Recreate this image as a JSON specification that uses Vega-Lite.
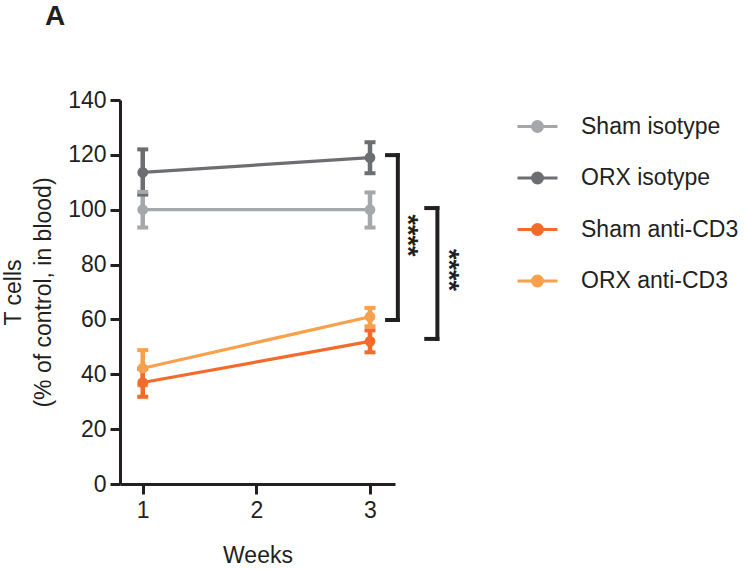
{
  "$schema": "https://vega.github.io/schema/vega-lite/v6.json",
  "width": 275,
  "height": 384,
  "autosize": {"type": "none"},
  "padding": {"left": 120, "top": 100, "right": 352, "bottom": 85},
  "background": "white",
  "title": {
    "text": "A",
    "anchor": "start",
    "frame": "group",
    "dx": -75,
    "offset": 36,
    "baseline": "alphabetic",
    "fontSize": 28,
    "fontWeight": "bold",
    "font": "Liberation Sans",
    "color": "#231f20"
  },
  "config": {
    "view": {"stroke": null},
    "font": "Liberation Sans",
    "axis": {
      "grid": false,
      "domainColor": "#231f20",
      "domainWidth": 3,
      "tickColor": "#231f20",
      "tickWidth": 3,
      "tickSize": 10,
      "labelFont": "Liberation Sans",
      "labelFontSize": 23,
      "labelColor": "#231f20",
      "titleFont": "Liberation Sans",
      "titleFontSize": 23,
      "titleFontWeight": "normal",
      "titleColor": "#231f20"
    }
  },
  "datasets": {
    "groups": [
      {"group": "ORX isotype", "week": 1, "mean": 113.6, "lo": 105.5, "hi": 122},
      {"group": "ORX isotype", "week": 3, "mean": 119, "lo": 113.3, "hi": 124.6},
      {"group": "Sham isotype", "week": 1, "mean": 100, "lo": 93.5, "hi": 106.5},
      {"group": "Sham isotype", "week": 3, "mean": 100, "lo": 93.5, "hi": 106.3},
      {"group": "ORX anti-CD3", "week": 1, "mean": 42.2, "lo": 36, "hi": 48.8},
      {"group": "ORX anti-CD3", "week": 3, "mean": 61, "lo": 57.5, "hi": 64.2},
      {"group": "Sham anti-CD3", "week": 1, "mean": 37, "lo": 31.8, "hi": 42},
      {"group": "Sham anti-CD3", "week": 3, "mean": 52, "lo": 48, "hi": 56}
    ],
    "brackets": [
      {"w1": 3.245, "w2": 3.245, "v1": 59.8, "v2": 119.9},
      {"w1": 3.15, "w2": 3.245, "v1": 119.9, "v2": 119.9},
      {"w1": 3.15, "w2": 3.245, "v1": 59.8, "v2": 59.8},
      {"w1": 3.593, "w2": 3.593, "v1": 52.9, "v2": 100.6},
      {"w1": 3.495, "w2": 3.593, "v1": 100.6, "v2": 100.6},
      {"w1": 3.495, "w2": 3.593, "v1": 52.9, "v2": 52.9}
    ],
    "stars": [
      {"week": 3.325, "value": 90.6, "label": "****"},
      {"week": 3.685, "value": 78, "label": "****"}
    ]
  },
  "layer": [
    {
      "data": {"name": "groups"},
      "mark": {"type": "rule", "strokeWidth": 4.5},
      "encoding": {
        "x": {"field": "week", "type": "quantitative"},
        "y": {"field": "lo", "type": "quantitative"},
        "y2": {"field": "hi"},
        "color": {"field": "group", "type": "nominal"}
      }
    },
    {
      "data": {"name": "groups"},
      "mark": {"type": "tick", "orient": "horizontal", "thickness": 4, "size": 11, "opacity": 1},
      "encoding": {
        "x": {"field": "week", "type": "quantitative"},
        "y": {"field": "lo", "type": "quantitative"},
        "color": {"field": "group", "type": "nominal"}
      }
    },
    {
      "data": {"name": "groups"},
      "mark": {"type": "tick", "orient": "horizontal", "thickness": 4, "size": 11, "opacity": 1},
      "encoding": {
        "x": {"field": "week", "type": "quantitative"},
        "y": {"field": "hi", "type": "quantitative"},
        "color": {"field": "group", "type": "nominal"}
      }
    },
    {
      "data": {"name": "groups"},
      "mark": {"type": "line", "strokeWidth": 3.2},
      "encoding": {
        "x": {"field": "week", "type": "quantitative"},
        "y": {"field": "mean", "type": "quantitative"},
        "color": {"field": "group", "type": "nominal"}
      }
    },
    {
      "data": {"name": "groups"},
      "mark": {"type": "point", "filled": true, "size": 115, "opacity": 1, "shape": "circle"},
      "encoding": {
        "x": {
          "field": "week",
          "type": "quantitative",
          "scale": {"domain": [0.8, 3.22], "nice": false, "zero": false},
          "axis": {"values": [1, 2, 3], "format": "d", "labelPadding": 5, "title": "Weeks", "titlePadding": 22}
        },
        "y": {
          "field": "mean",
          "type": "quantitative",
          "scale": {"domain": [0, 140], "nice": false},
          "axis": {
            "values": [0, 20, 40, 60, 80, 100, 120, 140],
            "labelPadding": 4,
            "title": ["T cells", "(% of control, in blood)"],
            "titleLineHeight": 30,
            "titlePadding": 12
          }
        },
        "color": {
          "field": "group",
          "type": "nominal",
          "scale": {
            "domain": ["Sham isotype", "ORX isotype", "Sham anti-CD3", "ORX anti-CD3"],
            "range": ["#a5a7aa", "#6d6e71", "#f26b2b", "#f8a04c"]
          },
          "legend": {
            "title": null,
            "orient": "none",
            "legendX": 396,
            "legendY": 5,
            "symbolType": "M-1,0H1M-0.25,0A0.25,0.25 0 1,0 0.25,0A0.25,0.25 0 1,0 -0.25,0Z",
            "symbolSize": 1600,
            "symbolStrokeWidth": 3,
            "labelFont": "Liberation Sans",
            "labelFontSize": 23,
            "labelColor": "#231f20",
            "labelOffset": 22,
            "rowPadding": 17.5,
            "encode": {
              "symbols": {
                "update": {
                  "stroke": {"scale": "color", "field": "value"},
                  "fill": {"scale": "color", "field": "value"},
                  "opacity": {"value": 1}
                }
              }
            }
          }
        }
      }
    },
    {
      "data": {"name": "brackets"},
      "mark": {"type": "rule", "strokeWidth": 4, "color": "#231f20", "strokeCap": "square"},
      "encoding": {
        "x": {"field": "w1", "type": "quantitative"},
        "x2": {"field": "w2"},
        "y": {"field": "v1", "type": "quantitative"},
        "y2": {"field": "v2"}
      }
    },
    {
      "data": {"name": "stars"},
      "mark": {"type": "text", "angle": 90, "align": "center", "baseline": "middle", "fontSize": 27, "fontWeight": "bold", "font": "Liberation Sans", "color": "#231f20"},
      "encoding": {
        "x": {"field": "week", "type": "quantitative"},
        "y": {"field": "value", "type": "quantitative"},
        "text": {"field": "label"}
      }
    }
  ]
}
